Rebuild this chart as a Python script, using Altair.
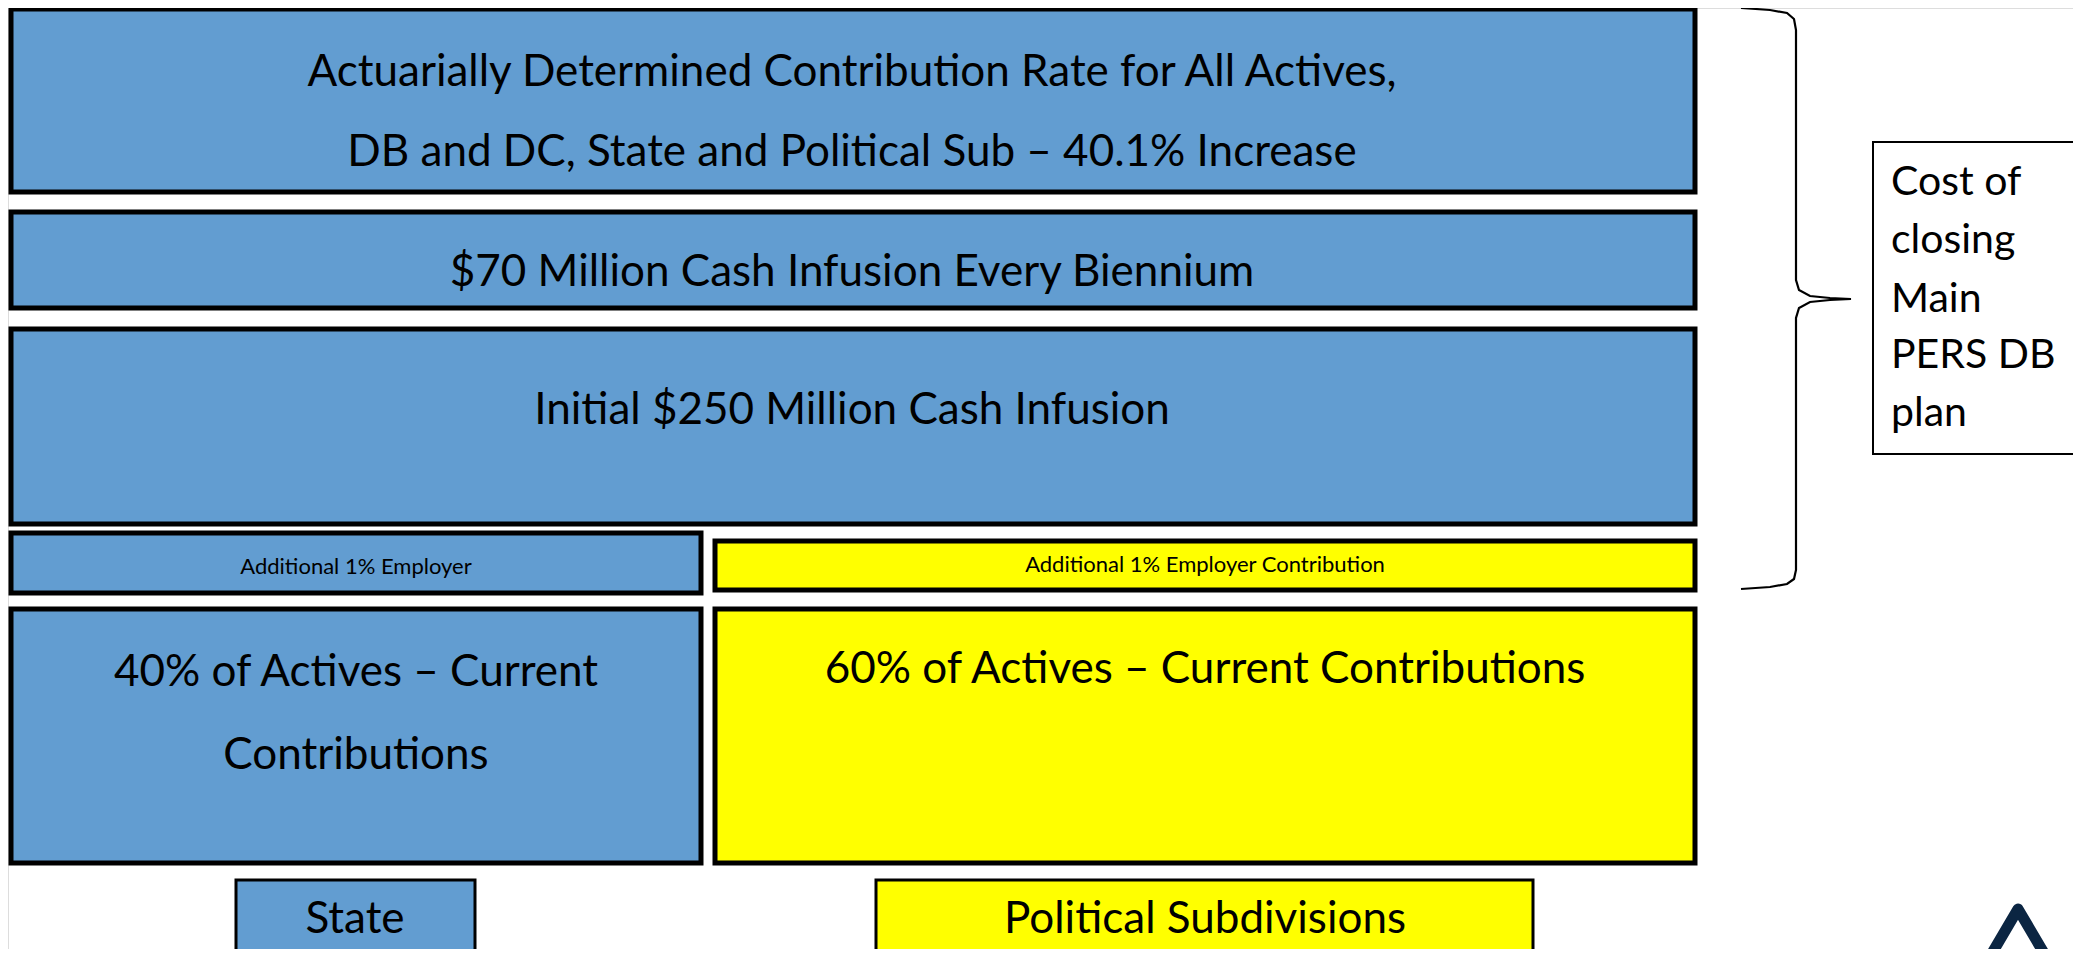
import altair as alt
import pandas as pd

# ---- Boxes (diagram blocks) ----
box_names = ["adc", "cash70", "cash250", "state_add", "ps_add", "state_cur", "ps_cur", "state_lbl", "ps_lbl"]
box_x0 = [11, 11, 11, 11, 715, 11, 715, 236, 876]
box_x1 = [1695, 1695, 1695, 701, 1695, 701, 1695, 475, 1533]
box_y0 = [9, 212, 329, 533, 541, 609, 609, 880, 880]
box_y1 = [192, 308, 524, 593, 590, 863, 863, 990, 990]
box_fill = ["#629DD1", "#629DD1", "#629DD1", "#629DD1", "#FFFF00", "#629DD1", "#FFFF00", "#629DD1", "#FFFF00"]
box_stroke_w = [5, 5, 5, 5, 5, 5, 5, 3, 3]
box_clipped = [False, False, False, False, False, False, False, True, True]

# ---- Centered texts ----
txt_labels = [
    "Actuarially Determined Contribution Rate for All Actives,",
    "DB and DC, State and Political Sub \u2013 40.1% Increase",
    "$70 Million Cash Infusion Every Biennium",
    "Initial $250 Million Cash Infusion",
    "Additional 1% Employer",
    "Additional 1% Employer Contribution",
    "40% of Actives \u2013 Current",
    "Contributions",
    "60% of Actives \u2013 Current Contributions",
    "State",
    "Political Subdivisions",
]
txt_x = [852, 852, 852, 852, 356, 1205, 356, 356, 1205, 355, 1205]
txt_y = [73, 153, 273, 411, 567, 565, 673, 756, 670, 920, 920]
txt_size = [44, 44, 44, 44, 22, 22, 44, 44, 44, 44, 44]

# ---- Side note box ----
note_lines = ["Cost of", "closing", "Main", "PERS DB", "plan"]
note_y = [183, 241, 300, 356, 414]
note_x = 1891
note_box = {"x0": 1873, "x1": 2110, "y0": 142, "y1": 454}

# ---- Curly brace ----
brace_x = [1741, 1770, 1787, 1794, 1796, 1796, 1799, 1810, 1830, 1851,
           1830, 1810, 1799, 1796, 1796, 1794, 1787, 1770, 1741]
brace_y = [8, 10, 13, 19, 30, 280, 290, 296, 298, 299,
           300, 302, 308, 318, 570, 579, 584, 587, 589]

# ---- Corner logo chevron ----
logo_x = [1988, 2018, 2048]
logo_y = [960, 909, 960]

X0, X1, Y0, Y1 = 8, 2073, 8, 949
xs = alt.Scale(domain=[X0, X1], nice=False, zero=False)
ys = alt.Scale(domain=[Y0, Y1], nice=False, zero=False, reverse=True)

boxes = pd.DataFrame({"name": box_names, "x0": box_x0, "x1": box_x1,
                      "y0": box_y0, "y1": box_y1, "fill": box_fill,
                      "sw": box_stroke_w, "clip": box_clipped})
texts = pd.DataFrame({"label": txt_labels, "x": txt_x, "y": txt_y, "size": txt_size})
notes = pd.DataFrame({"label": note_lines, "y": note_y, "x": [note_x] * len(note_lines)})
nbox = pd.DataFrame([note_box])
brace = pd.DataFrame({"x": brace_x, "y": brace_y, "o": list(range(len(brace_x)))})
logo = pd.DataFrame({"x": logo_x, "y": logo_y, "o": list(range(len(logo_x)))})


def rect_layer(df, clip):
    return alt.Chart(df).mark_rect(stroke="black", clip=clip).encode(
        x=alt.X("x0:Q", scale=xs, axis=None),
        x2="x1:Q",
        y=alt.Y("y0:Q", scale=ys, axis=None),
        y2="y1:Q",
        fill=alt.Fill("fill:N", scale=None),
        strokeWidth=alt.StrokeWidth("sw:Q", scale=None),
    )


rects_free = rect_layer(boxes[~boxes["clip"]], False)
rects_clip = rect_layer(boxes[boxes["clip"]], True)

note_rect = alt.Chart(nbox).mark_rect(fill="white", stroke="black", strokeWidth=2, clip=True).encode(
    x=alt.X("x0:Q", scale=xs, axis=None),
    x2="x1:Q",
    y=alt.Y("y0:Q", scale=ys, axis=None),
    y2="y1:Q",
)

brace_line = alt.Chart(brace).mark_line(color="black", strokeWidth=2.2, interpolate="linear").encode(
    x=alt.X("x:Q", scale=xs, axis=None),
    y=alt.Y("y:Q", scale=ys, axis=None),
    order="o:Q",
)

logo_line = alt.Chart(logo).mark_line(color="#0B2542", strokeWidth=11, clip=True,
                                      strokeJoin="round", strokeCap="butt").encode(
    x=alt.X("x:Q", scale=xs, axis=None),
    y=alt.Y("y:Q", scale=ys, axis=None),
    order="o:Q",
)

center_text = alt.Chart(texts).mark_text(font="Lato", color="black", align="center",
                                         baseline="middle").encode(
    x=alt.X("x:Q", scale=xs, axis=None),
    y=alt.Y("y:Q", scale=ys, axis=None),
    text="label:N",
    size=alt.Size("size:Q", scale=None),
)

note_text = alt.Chart(notes).mark_text(font="Lato", color="black", align="left",
                                       baseline="middle", fontSize=41).encode(
    x=alt.X("x:Q", scale=xs, axis=None),
    y=alt.Y("y:Q", scale=ys, axis=None),
    text="label:N",
)

chart = alt.layer(rects_free, rects_clip, note_rect, brace_line, logo_line,
                  center_text, note_text).properties(
    width=X1 - X0, height=Y1 - Y0, padding=0,
    autosize=alt.AutoSizeParams(type="none"),
).configure_view(stroke=None).configure(background="white")

chart.save("out.html", embed_options={"renderer": "svg", "actions": False})
